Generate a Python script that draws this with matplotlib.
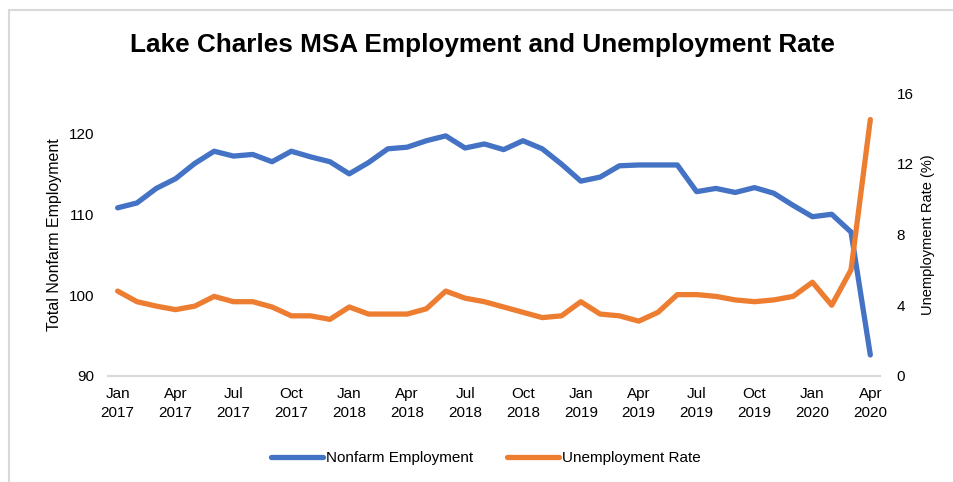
import matplotlib.pyplot as plt
from matplotlib.patches import Rectangle

plt.rcParams['font.family'] = ['Liberation Sans', 'DejaVu Sans']

# Monthly series, Jan 2017 - Apr 2020
employment = [110.8, 111.4, 113.2, 114.4, 116.3, 117.8, 117.2, 117.4, 116.5, 117.8,
              117.1, 116.5, 115.0, 116.4, 118.1, 118.3, 119.1, 119.7, 118.2, 118.7,
              118.0, 119.1, 118.1, 116.2, 114.1, 114.6, 116.0, 116.1, 116.1, 116.1,
              112.8, 113.2, 112.7, 113.3, 112.6, 111.1, 109.7, 110.0, 107.8, 92.6]
unemployment = [4.8, 4.2, 3.95, 3.75, 3.95, 4.5, 4.2, 4.2, 3.9, 3.4,
                3.4, 3.2, 3.9, 3.5, 3.5, 3.5, 3.8, 4.8, 4.4, 4.2,
                3.9, 3.6, 3.3, 3.4, 4.2, 3.5, 3.4, 3.1, 3.6, 4.6,
                4.6, 4.5, 4.3, 4.2, 4.3, 4.5, 5.3, 4.0, 6.0, 14.5]
tick_labels = ['Jan\n2017', 'Apr\n2017', 'Jul\n2017', 'Oct\n2017',
               'Jan\n2018', 'Apr\n2018', 'Jul\n2018', 'Oct\n2018',
               'Jan\n2019', 'Apr\n2019', 'Jul\n2019', 'Oct\n2019',
               'Jan\n2020', 'Apr\n2020']

blue = '#4472C4'
orange = '#ED7D31'
grid_gray = '#d9d9d9'

fig = plt.figure(figsize=(9.54, 4.82), dpi=100)
ax = fig.add_axes([0.1132, 0.22, 0.8092, 0.587])
ax2 = ax.twinx()

x = list(range(len(employment)))
l1, = ax.plot(x, employment, color=blue, lw=3.8, solid_capstyle='round',
              solid_joinstyle='round', label='Nonfarm Employment')
l2, = ax2.plot(x, unemployment, color=orange, lw=3.8, solid_capstyle='round',
               solid_joinstyle='round', label='Unemployment Rate')

ax.set_xlim(-0.5, len(x) - 0.5)
ax.set_ylim(90, 125)
ax.set_yticks([90, 100, 110, 120])
ax2.set_ylim(0, 16)
ax2.set_yticks([0, 4, 8, 12, 16])
ax.set_xticks(range(0, len(x), 3))
ax.set_xticklabels(tick_labels, linespacing=1.45)

for a in (ax, ax2):
    for s in ('top', 'left', 'right'):
        a.spines[s].set_visible(False)
    a.spines['bottom'].set_color(grid_gray)
    a.spines['bottom'].set_linewidth(1.5)
    a.tick_params(length=0, labelsize=11, colors='#000000')
ax.tick_params(axis='y', pad=10)
ax2.tick_params(axis='y', pad=12)
ax.tick_params(axis='x', pad=8)

ax.set_ylabel('Total Nonfarm Employment', fontsize=11.5, labelpad=5)
ax2.set_ylabel('Unemployment Rate (%)', fontsize=10.5, rotation=90, labelpad=5)

fig.text(0.506, 0.906, 'Lake Charles MSA Employment and Unemployment Rate',
         ha='center', va='center', fontsize=18.8, fontweight='bold')

fig.legend(handles=[l1, l2], loc='center', bbox_to_anchor=(0.509, 0.05), ncol=2,
           frameon=False, fontsize=11, handlelength=3.4, handletextpad=0.2,
           columnspacing=2.2)

# light frame around the chart area
fig.patches.append(Rectangle((9 / 954, -0.1), 1.2, 1 - 10 / 482 + 0.1,
                             transform=fig.transFigure, fill=False,
                             edgecolor=grid_gray, lw=1.5))

fig.savefig('out.png', dpi=100)
